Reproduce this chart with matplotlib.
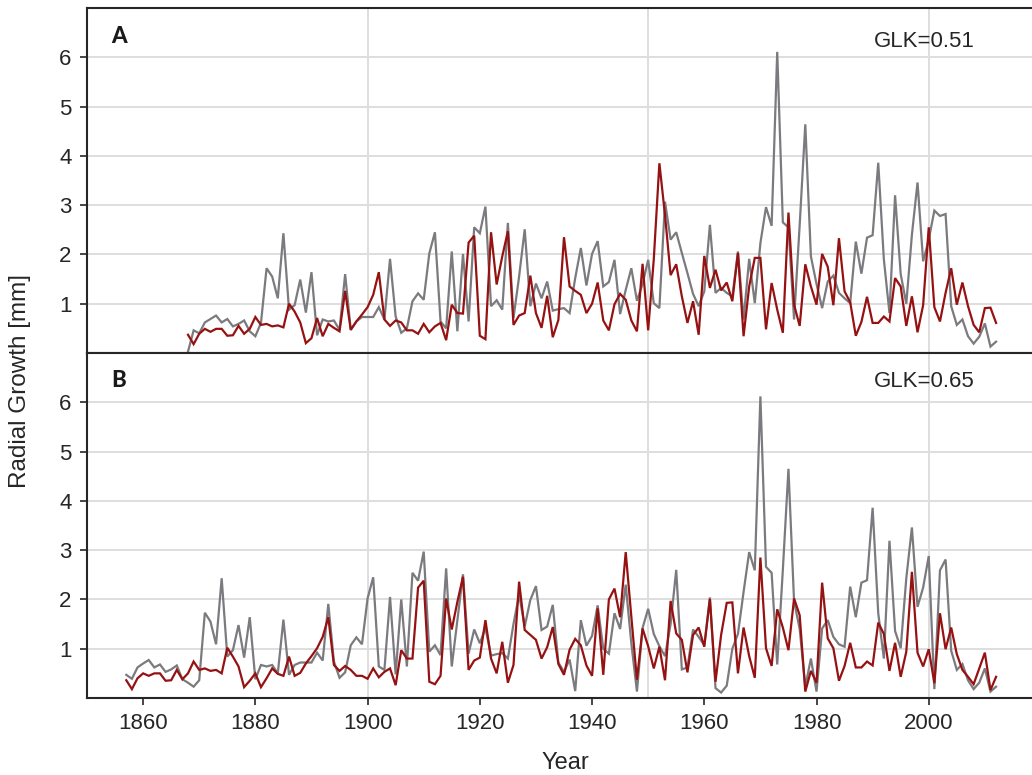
import matplotlib
matplotlib.use("Agg")
import matplotlib.pyplot as plt
import numpy as np

plt.rcParams['font.family'] = ['Liberation Sans', 'DejaVu Sans']

# ---------------- data ----------------
years_a = list(range(1868, 2013))
years_b = list(range(1857, 2013))

# Panel A: sample series (grey) and reference chronology (red)
a_gray = [
    0.03, 0.46,
    0.40, 0.62, 0.69, 0.76, 0.62, 0.69, 0.54, 0.59, 0.66, 0.44,
    0.34, 0.61, 1.72, 1.55, 1.11, 2.43, 0.88, 0.97, 1.49, 0.82,
    1.64, 0.36, 0.68, 0.64, 0.66, 0.47, 1.60, 0.47, 0.64, 0.73,
    0.73, 0.73, 0.93, 0.68, 1.91, 0.74, 0.41, 0.50, 1.05, 1.21,
    1.08, 2.02, 2.45, 0.64, 0.50, 2.06, 0.44, 2.01, 0.64, 2.55,
    2.43, 2.97, 0.95, 1.07, 0.88, 2.64, 0.71, 1.55, 2.51, 0.95,
    1.41, 1.11, 1.45, 0.86, 0.89, 0.91, 0.81, 1.52, 2.13, 1.37,
    2.01, 2.27, 1.35, 1.44, 1.89, 0.79, 1.28, 1.72, 1.06, 1.40,
    1.89, 1.01, 0.91, 3.07, 2.30, 2.45, 2.03, 1.62, 1.20, 0.95,
    1.25, 2.60, 1.22, 1.32, 1.22, 1.15, 2.06, 0.68, 1.91, 1.01,
    2.23, 2.96, 2.58, 6.11, 2.65, 2.55, 0.68, 2.60, 4.64, 1.96,
    1.40, 0.91, 1.45, 1.57, 1.22, 1.11, 1.01, 2.26, 1.61, 2.34,
    2.39, 3.86, 1.90, 0.81, 3.20, 1.60, 1.00, 2.40, 3.46, 1.86,
    2.30, 2.89, 2.78, 2.82, 0.95, 0.57, 0.68, 0.34, 0.19, 0.33,
    0.60, 0.13, 0.23,
]
a_red = [
    0.37, 0.18,
    0.39, 0.49, 0.43, 0.49, 0.49, 0.35, 0.36, 0.55, 0.39, 0.49,
    0.73, 0.57, 0.59, 0.54, 0.56, 0.52, 1.00, 0.84, 0.62, 0.20,
    0.30, 0.71, 0.34, 0.59, 0.51, 0.44, 1.26, 0.47, 0.64, 0.78,
    0.93, 1.18, 1.64, 0.68, 0.55, 0.66, 0.62, 0.46, 0.46, 0.39,
    0.59, 0.42, 0.54, 0.61, 0.26, 0.98, 0.81, 0.80, 2.24, 2.38,
    0.35, 0.28, 2.45, 1.39, 1.96, 2.47, 0.57, 0.76, 0.81, 1.57,
    0.81, 0.51, 1.16, 0.32, 0.67, 2.35, 1.35, 1.26, 1.18, 0.81,
    1.00, 1.43, 0.66, 0.46, 0.99, 1.20, 1.08, 0.66, 0.44, 1.81,
    0.46, 1.90, 3.85, 2.80, 1.58, 1.80, 1.15, 0.61, 1.05, 0.37,
    1.97, 1.32, 1.69, 1.27, 1.43, 1.05, 2.03, 0.34, 1.35, 1.93,
    1.93, 0.48, 1.42, 0.88, 0.41, 2.85, 0.98, 0.55, 1.80, 1.35,
    0.98, 2.01, 1.75, 0.97, 2.33, 1.25, 1.03, 0.35, 0.63, 1.14,
    0.61, 0.61, 0.74, 0.64, 1.52, 1.35, 0.55, 1.15, 0.42, 0.97,
    2.55, 0.93, 0.64, 1.22, 1.72, 0.98, 1.43, 0.95, 0.57, 0.42,
    0.91, 0.92, 0.61,
]

# Panel B
b_gray = [
    0.47, 0.39, 0.62,
    0.70, 0.77, 0.62, 0.68, 0.53, 0.58, 0.66, 0.38, 0.31, 0.23,
    0.36, 1.73, 1.55, 1.09, 2.43, 0.84, 0.97, 1.48, 0.82, 1.64,
    0.38, 0.67, 0.64, 0.67, 0.50, 1.59, 0.47, 0.67, 0.72, 0.72,
    0.72, 0.92, 0.76, 1.91, 0.74, 0.41, 0.52, 1.07, 1.23, 1.09,
    2.02, 2.45, 0.64, 0.57, 2.05, 0.48, 2.00, 0.64, 2.54, 2.38,
    2.97, 0.94, 1.07, 0.87, 2.63, 0.64, 1.58, 2.51, 0.90, 1.39,
    1.11, 1.42, 0.86, 0.89, 0.91, 0.80, 1.50, 2.10, 1.45, 1.99,
    2.27, 1.38, 1.45, 1.89, 0.72, 0.53, 0.78, 0.14, 1.58, 1.06,
    1.26, 1.88, 1.00, 0.90, 1.72, 1.40, 2.30, 1.11, 0.13, 1.42,
    1.81, 1.30, 1.05, 0.85, 1.50, 2.60, 0.58, 0.62, 1.39, 1.24,
    1.07, 2.04, 0.20, 0.11, 0.25, 1.00, 1.30, 2.15, 2.96, 2.59,
    6.12, 2.66, 2.54, 0.68, 2.60, 4.65, 1.96, 1.40, 0.23, 0.80,
    0.13, 1.41, 1.58, 1.24, 1.09, 1.04, 2.26, 1.64, 2.34, 2.39,
    3.86, 1.72, 0.80, 3.19, 1.36, 1.01, 2.43, 3.46, 1.85, 2.24,
    2.88, 0.18, 2.59, 2.81, 0.96, 0.57, 0.69, 0.36, 0.18, 0.31,
    0.60, 0.13, 0.23,
]
b_red = [
    0.36, 0.18, 0.40,
    0.50, 0.45, 0.50, 0.50, 0.35, 0.36, 0.57, 0.38, 0.50, 0.74,
    0.57, 0.60, 0.55, 0.57, 0.50, 1.02, 0.84, 0.64, 0.22, 0.35,
    0.50, 0.22, 0.40, 0.60, 0.49, 0.45, 0.84, 0.45, 0.51, 0.70,
    0.85, 1.01, 1.24, 1.64, 0.67, 0.55, 0.65, 0.57, 0.45, 0.45,
    0.39, 0.60, 0.42, 0.53, 0.60, 0.26, 0.97, 0.80, 0.80, 2.24,
    2.38, 0.33, 0.28, 0.45, 2.02, 1.39, 1.95, 2.46, 0.57, 0.76,
    0.82, 1.58, 0.80, 0.50, 1.14, 0.31, 0.67, 2.36, 1.38, 1.28,
    1.18, 0.80, 1.03, 1.44, 0.69, 0.47, 0.98, 1.20, 1.07, 0.66,
    0.45, 1.82, 0.47, 2.00, 2.22, 1.64, 2.96, 1.65, 0.37, 1.41,
    1.05, 0.60, 1.04, 0.36, 1.97, 1.31, 1.18, 0.52, 1.28, 1.43,
    1.04, 2.01, 0.33, 1.28, 1.93, 1.94, 0.50, 1.43, 0.85, 0.41,
    2.85, 1.01, 0.65, 1.80, 1.43, 0.97, 2.02, 1.68, 0.13, 0.55,
    0.31, 2.34, 1.21, 1.01, 0.35, 0.65, 1.12, 0.62, 0.62, 0.74,
    0.66, 1.53, 1.30, 0.55, 1.12, 0.43, 0.94, 2.56, 0.92, 0.64,
    0.99, 0.30, 1.72, 0.99, 1.43, 0.89, 0.57, 0.43, 0.28, 0.60,
    0.92, 0.16, 0.43,
]

panel_labels = ["A", "B"]
glk_labels = ["GLK=0.51", "GLK=0.65"]
y_ticks = [1, 2, 3, 4, 5, 6]
x_ticks = [1860, 1880, 1900, 1920, 1940, 1960, 1980, 2000]
x_grid = [1900, 1950, 2000]

# ---------------- style ----------------
GRAY = "#7b7b7f"
RED = "#961212"
GRID = "#dedede"
SPINE = "#262626"
TXT = "#262626"

fig = plt.figure(figsize=(10.32, 7.75), dpi=100)
W, H = 1032.0, 775.0
left = 87 / W
ax_a = fig.add_axes([left, 1 - 353 / H, 1 - left, 345 / H])
ax_b = fig.add_axes([left, 1 - 698 / H, 1 - left, 345 / H])

series = [(ax_a, years_a, a_gray, a_red), (ax_b, years_b, b_gray, b_red)]
for i, (ax, yrs, g, r) in enumerate(series):
    ax.set_xlim(1850, 2018.4)
    ax.set_ylim(0, 7)
    for v in y_ticks:
        ax.axhline(v, color=GRID, lw=1.4, zorder=0)
    for v in x_grid:
        ax.axvline(v, color=GRID, lw=1.4, zorder=0)
    ax.plot(yrs, g, color=GRAY, lw=1.6, zorder=2, solid_joinstyle='miter')
    ax.plot(yrs, r, color=RED, lw=1.6, zorder=3, solid_joinstyle='miter')
    ax.set_yticks(y_ticks)
    ax.set_xticks(x_ticks)
    ax.tick_params(axis='y', length=5, width=1.2, color=SPINE, pad=6,
                   labelsize=16, labelcolor=TXT)
    ax.tick_params(axis='x', length=5, width=1.2, color=SPINE, pad=6,
                   labelsize=16, labelcolor=TXT)
    for s in ['left', 'top', 'bottom']:
        ax.spines[s].set_color(SPINE)
        ax.spines[s].set_linewidth(1.5)
    ax.spines['right'].set_visible(False)
    ax.set_facecolor('white')
    ax.text((111 - 87) / (W - 87), 0.916 if i == 0 else 0.919, panel_labels[i],
            transform=ax.transAxes, ha='left', va='center',
            fontsize=16, fontweight='black', color='#1a1a1a',
            family=['Lato', 'DejaVu Sans'])
    ax.text((975 - 87) / (W - 87), 0.904 if i == 0 else 0.916,
            glk_labels[i], transform=ax.transAxes, ha='right', va='center',
            fontsize=16, color=TXT)

ax_a.tick_params(axis='x', bottom=False, labelbottom=False)

fig.text(20 / W, 1 - 381 / H, "Radial Growth [mm]", rotation=90,
         ha='center', va='center', fontsize=17.5, color=TXT)
fig.text(565 / W, 1 - 769 / H, "Year", ha='center', va='baseline',
         fontsize=17, color=TXT)

fig.savefig("out.png", dpi=100, facecolor='white')
